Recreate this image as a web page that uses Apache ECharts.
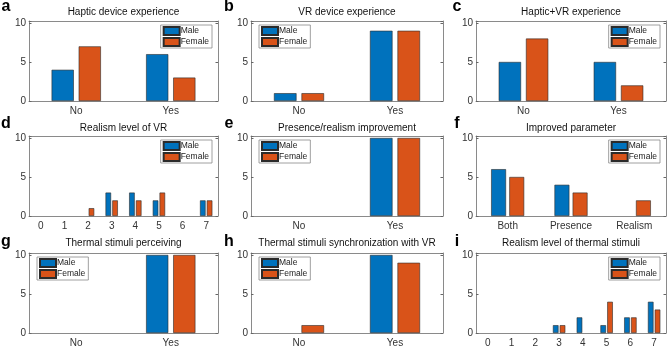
<!DOCTYPE html>
<html>
<head>
<meta charset="utf-8">
<script src="https://cdn.jsdelivr.net/npm/echarts@6/dist/echarts.min.js"></script>
<style>
  html, body { margin: 0; padding: 0; background: #fff; }
  #chart { width: 669px; height: 348px; }
</style>
</head>
<body>
<div id="chart"></div>
<script>
// categories
var catsYesNo = ['No', 'Yes'];
var catsLevel = ['0', '1', '2', '3', '4', '5', '6', '7'];
var catsParam = ['Both', 'Presence', 'Realism'];

var letters = ['a', 'b', 'c', 'd', 'e', 'f', 'g', 'h', 'i'];
var titles = [
  'Haptic device experience',
  'VR device experience',
  'Haptic+VR experience',
  'Realism level of VR',
  'Presence/realism improvement',
  'Improved parameter',
  'Thermal stimuli perceiving',
  'Thermal stimuli synchronization with VR',
  'Realism level of thermal stimuli'
];
var panelCats = [catsYesNo, catsYesNo, catsYesNo, catsLevel, catsYesNo, catsParam, catsYesNo, catsYesNo, catsLevel];

// counts per panel
var maleCounts = [
  [4, 6],
  [1, 9],
  [5, 5],
  [0, 0, 0, 3, 3, 2, 0, 2],
  [0, 10],
  [6, 4, 0],
  [0, 10],
  [0, 10],
  [0, 0, 0, 1, 2, 1, 2, 4]
];
var femaleCounts = [
  [7, 3],
  [1, 9],
  [8, 2],
  [0, 0, 1, 2, 2, 3, 0, 2],
  [0, 10],
  [5, 3, 2],
  [0, 10],
  [1, 9],
  [0, 0, 0, 1, 0, 4, 2, 3]
];
// legend corner: 'r' top right, 'l' top left
var legendSide = ['r', 'l', 'r', 'r', 'l', 'r', 'l', 'l', 'r'];

var yTicks = [0, 5, 10];

var colLeft = [29, 251, 476];
var colWidth = [189, 192, 190];
var rowTop = [21, 136, 253];
var rowHeight = [80, 80, 81];
var titleY = [12, 128, 243];
var letterX = [6, 229, 457];
var letterY = [7, 124, 242];

var font = '"Liberation Sans", Arial, sans-serif';
var boxColor = '#8a8a8a';
var blue = '#0072BD';
var orange = '#D95319';

// zero counts get no bar at all
function bars(arr) {
  return arr.map(function (v) { return v === 0 ? '-' : v; });
}

var grids = [], xAxes = [], yAxes = [], series = [], legends = [], graphics = [];

for (var p = 0; p < 9; p++) {
  var r = Math.floor(p / 3), c = p % 3;
  var gl = colLeft[c], gt = rowTop[r], gw = colWidth[c], gh = rowHeight[r];
  grids.push({ left: gl, top: gt, width: gw, height: gh, containLabel: false });

  var cats = panelCats[p];
  // bottom x axis
  xAxes.push({
    type: 'category', gridIndex: p, data: cats, position: 'bottom',
    axisLine: { onZero: false, lineStyle: { color: boxColor, width: 1 } },
    axisTick: { inside: true, alignWithLabel: true, length: 2.5, lineStyle: { color: '#666' } },
    axisLabel: { color: '#333', fontSize: 10, fontFamily: font, margin: 5 }
  });
  // top x axis (box + ticks only)
  xAxes.push({
    type: 'category', gridIndex: p, data: cats, position: 'top',
    axisLine: { onZero: false, lineStyle: { color: boxColor, width: 1 } },
    axisTick: { inside: true, alignWithLabel: true, length: 2.5, lineStyle: { color: '#666' } },
    axisLabel: { show: false }
  });
  yAxes.push({
    type: 'value', gridIndex: p, min: 0, max: 10.25, interval: 5, position: 'left',
    splitLine: { show: false },
    axisLine: { show: true, lineStyle: { color: boxColor, width: 1 } },
    axisTick: { show: true, inside: true, length: 2.5, lineStyle: { color: '#666' } },
    axisLabel: {
      color: '#333', fontSize: 10, fontFamily: font, margin: 3,
      formatter: function (v) { return yTicks.indexOf(v) >= 0 ? String(v) : ''; }
    }
  });
  yAxes.push({
    type: 'value', gridIndex: p, min: 0, max: 10.25, interval: 5, position: 'right',
    splitLine: { show: false },
    axisLine: { show: true, lineStyle: { color: boxColor, width: 1 } },
    axisTick: { show: true, inside: true, length: 2.5, lineStyle: { color: '#666' } },
    axisLabel: { show: false }
  });

  series.push({
    name: 'Male', type: 'bar', xAxisIndex: 2 * p, yAxisIndex: 2 * p,
    data: bars(maleCounts[p]), barWidth: '23.5%', barGap: '22%',
    itemStyle: { color: blue, borderColor: '#2b2b2b', borderWidth: 0.6 },
    animation: false
  });
  series.push({
    name: 'Female', type: 'bar', xAxisIndex: 2 * p, yAxisIndex: 2 * p,
    data: bars(femaleCounts[p]), barWidth: '23.5%', barGap: '22%',
    itemStyle: { color: orange, borderColor: '#2b2b2b', borderWidth: 0.6 },
    animation: false
  });

  var lg = {
    data: ['Male', 'Female'], orient: 'vertical', top: gt + 4,
    itemWidth: 16, itemHeight: 8, itemGap: 1, padding: [1, 3, 1, 2],
    icon: 'rect', selectedMode: false,
    backgroundColor: '#fff', borderColor: '#888', borderWidth: 0.8, borderRadius: 0,
    textStyle: { fontSize: 8.5, lineHeight: 9, color: '#222', fontFamily: font, padding: [0, 0, 0, -4] }
  };
  if (legendSide[p] === 'r') lg.right = 669 - (gl + gw) + 6;
  else lg.left = gl + 8;
  legends.push(lg);

  graphics.push({
    type: 'text', x: gl + gw / 2, y: titleY[r],
    style: { text: titles[p], fill: '#111', font: '10px ' + font, textAlign: 'center', textVerticalAlign: 'middle' }
  });
  graphics.push({
    type: 'text', x: letterX[c], y: letterY[r],
    style: { text: letters[p], fill: '#000', font: 'bold 16px ' + font, textAlign: 'center', textVerticalAlign: 'middle' }
  });
}

var myChart = echarts.init(document.getElementById('chart'));
var option = {
  backgroundColor: '#fff',
  animation: false,
  grid: grids,
  xAxis: xAxes,
  yAxis: yAxes,
  legend: legends,
  series: series,
  graphic: graphics
};
myChart.setOption(option);
</script>
</body>
</html>
